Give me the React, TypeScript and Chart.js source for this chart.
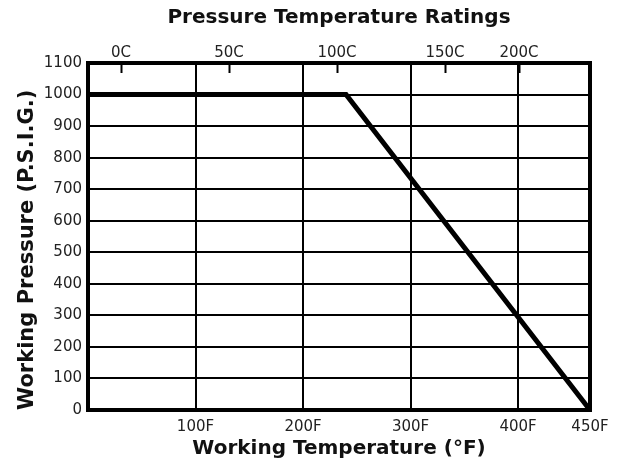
import React, { useEffect, useRef } from 'react';
import { Chart, registerables, LinearScale } from 'chart.js';

// ---- data ----
const temperaturesF = [0, 240, 450];
const pressuresPSIG = [1000, 1000, 0];
const fahrenheitTicks = [0, 100, 200, 300, 400, 450];
const celsiusTicks = [0, 50, 100, 150, 200];
const pressureMin = 0;
const pressureMax = 1100;
const pressureStep = 100;

const chartTitle = 'Pressure Temperature Ratings';
const xTitle = 'Working Temperature (°F)';
const yTitle = 'Working Pressure (P.S.I.G.)';

// Linear scale whose calibration is piecewise (the printed chart is not uniform near its ends)
class BrokenLinearScale extends LinearScale {
  static id = 'brokenLinear';
  toDecimal(v: number) {
    const b = (this.options as any).breaks as number[][];
    let i = 0;
    while (i < b.length - 2 && v > b[i + 1][0]) i++;
    const [v0, f0] = b[i];
    const [v1, f1] = b[i + 1];
    return f0 + ((v - v0) * (f1 - f0)) / (v1 - v0);
  }
  fromDecimal(d: number) {
    const b = (this.options as any).breaks as number[][];
    let i = 0;
    while (i < b.length - 2 && d > b[i + 1][1]) i++;
    const [v0, f0] = b[i];
    const [v1, f1] = b[i + 1];
    return v0 + ((d - f0) * (v1 - v0)) / (f1 - f0);
  }
  getPixelForValue(v: any) {
    if (v === null || v === undefined || isNaN(v)) return NaN;
    return this.getPixelForDecimal(this.toDecimal(+v));
  }
  getValueForPixel(p: number) {
    return this.fromDecimal(this.getDecimalForPixel(p));
  }
}

Chart.register(...registerables, BrokenLinearScale as any);

const FONT = 'DejaVu Sans';

const framePlugin = {
  id: 'frame',
  afterDraw(chart: any) {
    const { ctx, chartArea } = chart;
    const top = chart.scales.x2;
    ctx.save();
    ctx.strokeStyle = '#000';
    ctx.lineWidth = 2;
    top.ticks.forEach((t: any) => {
      const px = Math.round(top.getPixelForValue(t.value)) + 0.5;
      ctx.beginPath();
      ctx.moveTo(px, chartArea.top);
      ctx.lineTo(px, chartArea.top + 10);
      ctx.stroke();
    });
    ctx.lineWidth = 4;
    ctx.strokeRect(chartArea.left, chartArea.top, chartArea.right - chartArea.left, chartArea.bottom - chartArea.top);
    ctx.restore();
  },
};

export default function App() {
  const ref = useRef<HTMLCanvasElement>(null);
  useEffect(() => {
    if (!ref.current) return;
    const chart = new Chart(ref.current, {
      type: 'line',
      data: {
        datasets: [
          {
            data: temperaturesF.map((t, i) => ({ x: t, y: pressuresPSIG[i] })),
            borderColor: '#000',
            borderWidth: 5,
            pointRadius: 0,
            tension: 0,
            fill: false,
            xAxisID: 'x',
            yAxisID: 'y',
          },
        ],
      },
      plugins: [framePlugin],
      options: {
        animation: false,
        responsive: false,
        devicePixelRatio: 1,
        layout: { padding: { left: 0, right: 34, top: 0, bottom: 0 } },
        plugins: {
          legend: { display: false },
          tooltip: { enabled: false },
          title: { display: false },
        },
        scales: {
          x: {
            type: 'brokenLinear' as any,
            position: 'bottom',
            min: 0,
            max: 450,
            breaks: [[0, 0], [400, 0.8566], [450, 1]],
            afterBuildTicks: (s: any) => {
              s.ticks = fahrenheitTicks.map((v) => ({ value: v }));
            },
            afterFit: (s: any) => {
              s.height = 53;
            },
            ticks: {
              autoSkip: false,
              maxRotation: 0,
              padding: 8,
              color: '#222',
              font: { family: FONT, size: 15 },
              callback: (v: any) => (v === 0 ? '' : v + 'F'),
            },
            grid: { color: '#000', lineWidth: 2, drawTicks: false },
            border: { display: false },
            title: {
              display: true,
              text: xTitle,
              color: '#111',
              font: { family: FONT, size: 20, weight: 'bold' },
              padding: { top: 0, bottom: 2 },
            },
          } as any,
          x2: {
            type: 'brokenLinear' as any,
            position: 'top',
            min: 0,
            max: 200,
            breaks: [[0, 0.0657], [150, 0.7112], [200, 0.8586]],
            afterBuildTicks: (s: any) => {
              s.ticks = celsiusTicks.map((v) => ({ value: v }));
            },
            afterFit: (s: any) => {
              s.height = 63;
            },
            ticks: {
              autoSkip: false,
              maxRotation: 0,
              padding: 1,
              color: '#222',
              font: { family: FONT, size: 15 },
              callback: (v: any) => v + 'C',
            },
            grid: { display: false, drawTicks: false },
            border: { display: false },
            title: {
              display: true,
              text: chartTitle,
              color: '#111',
              font: { family: FONT, size: 20, weight: 'bold' },
              padding: { top: 6, bottom: 0 },
            },
          } as any,
          y: {
            type: 'linear',
            min: pressureMin,
            max: pressureMax,
            afterFit: (s: any) => {
              s.width = 88;
            },
            ticks: {
              stepSize: pressureStep,
              padding: 6,
              color: '#222',
              font: { family: FONT, size: 15 },
              callback: (v: any) => String(v),
            },
            grid: { color: '#000', lineWidth: 2, drawTicks: false },
            border: { display: false },
            title: {
              display: true,
              text: yTitle,
              align: 'start',
              color: '#111',
              font: { family: FONT, size: 21, weight: 'bold' },
              padding: { top: 15, bottom: 0 },
            },
          },
        },
      } as any,
    });
    return () => chart.destroy();
  }, []);
  return (
    <div style={{ position: 'fixed', left: 0, top: 0, width: 624, height: 463, background: '#fff' }}>
      <canvas ref={ref} width={624} height={463} style={{ width: 624, height: 463, display: 'block' }} />
    </div>
  );
}
